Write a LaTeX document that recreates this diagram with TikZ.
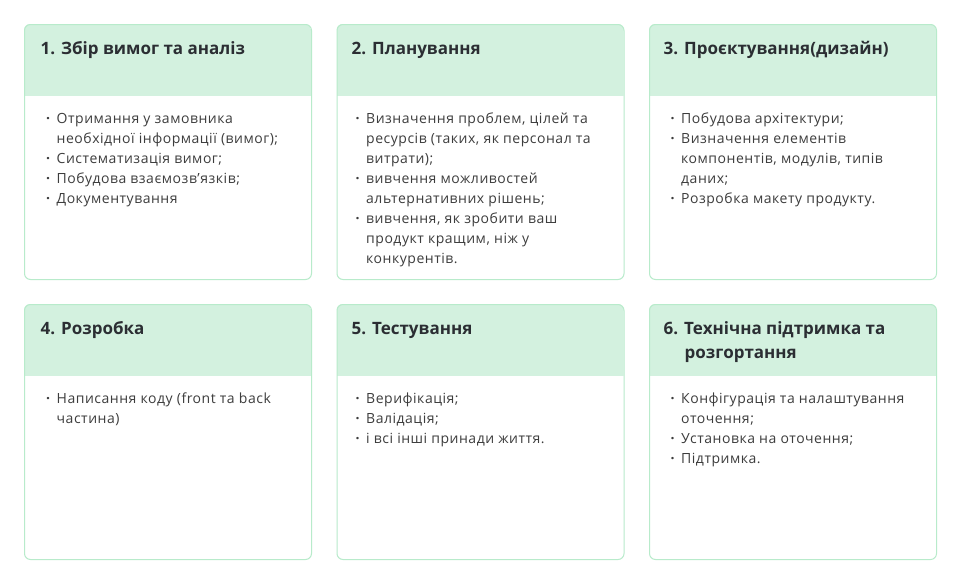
\documentclass[tikz,border=0pt]{standalone}
\usepackage{fontspec}
\setmainfont{Open Sans}
\newfontfamily\bodyfont[LetterSpace=3.7]{Open Sans}
\definecolor{headfill}{HTML}{D3F1DF}
\definecolor{cardborder}{HTML}{B8EBCB}
\definecolor{titlecol}{HTML}{2B2E33}
\definecolor{bodycol}{HTML}{3D3D3D}
\newcommand\bi[1]{\makebox[10.5pt][l]{\bfseries·}#1}
\newcommand\bc[1]{\hspace*{10.5pt}#1}
\begin{document}
\begin{tikzpicture}[x=1pt,y=-1pt,
  card/.style={draw=cardborder, line width=1pt, rounded corners=6pt, anchor=north west,
    minimum width=287pt, minimum height=255pt, inner sep=0pt},
  cardtitle/.style={anchor=north west, inner sep=0pt, align=left, text=titlecol,
    font=\fontsize{17pt}{24.5pt}\selectfont\bfseries},
  cardbody/.style={anchor=north west, inner sep=0pt, align=left, text=bodycol,
    font=\bodyfont\fontsize{14pt}{20pt}\selectfont}]
\useasboundingbox (0,0) rectangle (960,584);
\fill[white] (0,0) rectangle (960,584);
% headers
\foreach \cx/\cy in {24/24, 336.5/24, 649/24, 24/304, 336.5/304, 649/304}{
  \begin{scope}
    \clip[rounded corners=6pt] (\cx,\cy) rectangle (\cx+287,\cy+255);
    \fill[headfill] (\cx,\cy) rectangle (\cx+287,\cy+72);
  \end{scope}
}
% cards
\node[card] (c1) at (24,24) {};
\node[card] (c2) at (336.5,24) {};
\node[card] (c3) at (649,24) {};
\node[card] (c4) at (24,304) {};
\node[card] (c5) at (336.5,304) {};
\node[card] (c6) at (649,304) {};
% titles
\node[cardtitle] (t1) at (40.5,54-17.15) {\strut 1. Збір вимог та аналіз};
\node[cardtitle] (t2) at (351.5,54-17.15) {\strut 2. Планування};
\node[cardtitle] (t3) at (663.5,54-17.15) {\strut 3. Проєктування(дизайн)};
\node[cardtitle] (t4) at (40.5,334-17.15) {\strut 4. Розробка};
\node[cardtitle] (t5) at (351.5,334-17.15) {\strut 5. Тестування};
\node[cardtitle] (t6) at (663.5,334-17.15) {\strut 6. Технічна підтримка та\\\hspace*{21pt}розгортання};
% bodies
\node[cardbody] (b1) at (46,123-14) {\strut\bi{Отримання у замовника}\\
  \bc{необхідної інформації (вимог);}\\
  \bi{Систематизація вимог;}\\
  \bi{Побудова взаємозв’язків;}\\
  \bi{Документування}};
\node[cardbody] (b2) at (355.5,123-14) {\strut\bi{Визначення проблем, цілей та}\\
  \bc{ресурсів (таких, як персонал та}\\
  \bc{витрати);}\\
  \bi{вивчення можливостей}\\
  \bc{альтернативних рішень;}\\
  \bi{вивчення, як зробити ваш}\\
  \bc{продукт кращим, ніж у}\\
  \bc{конкурентів.}};
\node[cardbody] (b3) at (670.5,123-14) {\strut\bi{Побудова архітектури;}\\
  \bi{Визначення елементів}\\
  \bc{компонентів, модулів, типів}\\
  \bc{даних;}\\
  \bi{Розробка макету продукту.}};
\node[cardbody] (b4) at (46,403-14) {\strut\bi{Написання коду (front та back}\\
  \bc{частина)}};
\node[cardbody] (b5) at (355.5,403-14) {\strut\bi{Верифікація;}\\
  \bi{Валідація;}\\
  \bi{і всі інші принади життя.}};
\node[cardbody] (b6) at (670.5,403-14) {\strut\bi{Конфігурація та налаштування}\\
  \bc{оточення;}\\
  \bi{Установка на оточення;}\\
  \bi{Підтримка.}};
\end{tikzpicture}
\end{document}
